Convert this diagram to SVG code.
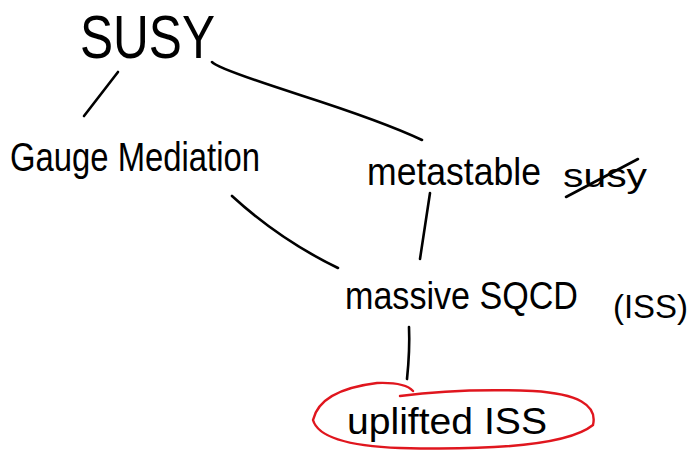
<svg xmlns="http://www.w3.org/2000/svg" width="692" height="454" viewBox="0 0 692 454">
<style>
text{font-family:"Liberation Sans","DejaVu Sans",sans-serif;fill:#000}
.ln{fill:none;stroke:#000;stroke-width:2.6;stroke-linecap:round;stroke-linejoin:round}
</style>
<rect width="692" height="454" fill="#fff"/>
<g id="connectors">
<path class="ln" d="M118 72 L84 116"/>
<path class="ln" d="M212 62 Q216 68 300 95 T422 140"/>
<path class="ln" d="M232 196 Q280 240 338 268"/>
<path class="ln" d="M430 193 L420 259"/>
<path class="ln" d="M409 327 Q410 350 407 379"/>
</g>
<g id="susy"><text x="80" y="58" font-size="62" textLength="135" lengthAdjust="spacingAndGlyphs">SUSY</text></g>
<g id="gauge"><text x="10" y="171" font-size="40" textLength="250" lengthAdjust="spacingAndGlyphs">Gauge Mediation</text></g>
<g id="metastable"><text x="367" y="185" font-size="38" textLength="174" lengthAdjust="spacingAndGlyphs">metastable</text>
<text x="563" y="187" font-size="34" textLength="84" lengthAdjust="spacingAndGlyphs">susy</text>
<path class="ln" d="M566 197 L638 159"/></g>
<g id="massive"><text x="345" y="309" font-size="38" textLength="233" lengthAdjust="spacingAndGlyphs">massive SQCD</text>
<text x="613" y="318" font-size="34" textLength="75" lengthAdjust="spacingAndGlyphs">(ISS)</text></g>
<g id="uplifted"><text x="347" y="434" font-size="36" textLength="200" lengthAdjust="spacingAndGlyphs">uplifted ISS</text>
<path d="M413 391 Q405 382 377 383 Q320 390 313 420 Q320 445 400 448 Q560 452 593 425 Q600 395 533 391 Q460 388 400 396" fill="none" stroke="#e0161e" stroke-width="2.4" stroke-linecap="round"/></g>
</svg>
